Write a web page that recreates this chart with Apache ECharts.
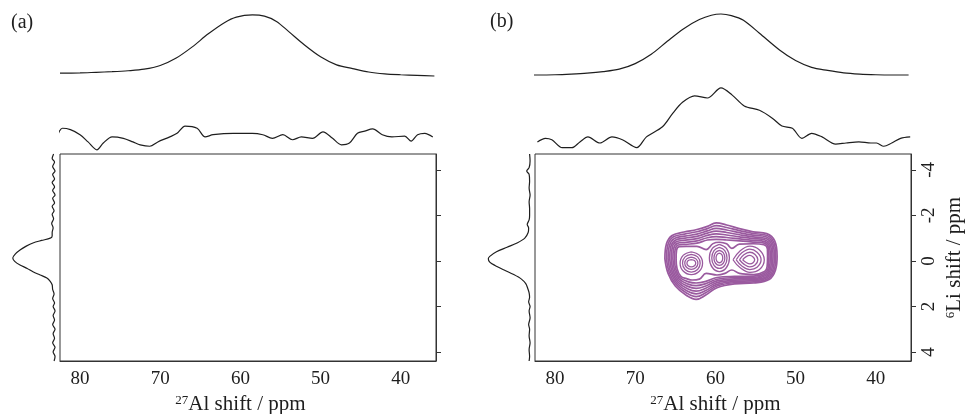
<!DOCTYPE html>
<html>
<head>
<meta charset="utf-8">
<title>27Al-6Li HETCOR</title>
<script src="https://cdn.jsdelivr.net/npm/echarts@6/dist/echarts.min.js"></script>
<style>
html, body { margin: 0; padding: 0; background: #fff; }
#main { width: 965px; height: 414px; }
</style>
</head>
<body>
<div id="main"></div>
<script>
// ---- data ----
// 27Al 1D spectra (top traces): shift in ppm, normalised intensity
var alTopA = [82.5, 80, 78, 76, 74, 72, 70, 68, 66, 64, 62, 60.5, 58.5, 57, 55.5, 54, 52, 50, 48, 46, 44, 42, 40, 38, 35.8];
var topA   = [0.045, 0.05, 0.06, 0.07, 0.085, 0.11, 0.17, 0.29, 0.47, 0.68, 0.86, 0.95, 0.985, 0.965, 0.88, 0.72, 0.5, 0.31, 0.18, 0.12, 0.065, 0.035, 0.02, 0.01, 0.0];
var alTopB = [82.7, 80, 78, 76, 74, 72, 70, 68, 66, 64, 62, 60.5, 59.3, 58, 56.5, 54.5, 52, 50, 48, 46, 44, 42, 40, 38, 35.9];
var topB   = [0.016, 0.02, 0.03, 0.045, 0.07, 0.11, 0.2, 0.35, 0.56, 0.76, 0.91, 0.98, 1.0, 0.975, 0.9, 0.69, 0.42, 0.25, 0.14, 0.09, 0.05, 0.03, 0.02, 0.016, 0.016];

// projections of the 2D maps onto the 27Al axis
var alProjA = [82.7, 82.2, 81.2, 80.0, 79.0, 77.9, 77.1, 76.0, 74.6, 73.4, 72.5, 71.3, 70.3, 68.8, 67.9, 66.9, 65.4, 64.4, 63.4, 60.9, 58.5, 57.2, 56.0, 54.7, 53.5, 52.4, 51.0, 49.7, 48.5, 47.4, 46.4, 45.4, 44.5, 43.5, 42.3, 41.1, 39.5, 38.7, 37.9, 37.0, 36.0];
var projA   = [0.26, 0.33, 0.31, 0.24, 0.14, 0.03, 0.125, 0.21, 0.19, 0.14, 0.10, 0.08, 0.14, 0.21, 0.26, 0.36, 0.33, 0.21, 0.24, 0.26, 0.26, 0.24, 0.19, 0.24, 0.17, 0.21, 0.19, 0.28, 0.19, 0.10, 0.125, 0.26, 0.29, 0.32, 0.24, 0.21, 0.22, 0.15, 0.24, 0.26, 0.21];
var alProjB = [82.2, 81.2, 80.4, 79.1, 77.9, 76.9, 75.9, 74.4, 72.9, 71.6, 69.8, 68.6, 66.6, 65.3, 64.1, 62.6, 61.0, 59.3, 57.9, 56.4, 54.5, 52.9, 51.7, 50.4, 49.2, 48.0, 46.7, 45.0, 43.7, 42.1, 40.6, 39.9, 39.0, 38.0, 36.9, 35.7];
var projB   = [0.14, 0.19, 0.17, 0.06, 0.06, 0.14, 0.21, 0.125, 0.21, 0.17, 0.06, 0.21, 0.35, 0.54, 0.69, 0.78, 0.75, 0.89, 0.79, 0.64, 0.58, 0.47, 0.36, 0.33, 0.19, 0.26, 0.21, 0.11, 0.125, 0.14, 0.125, 0.125, 0.08, 0.125, 0.19, 0.21];

// 6Li 1D spectra (left traces): shift in ppm, normalised intensity
var liSideA  = [-4.7, -4.5, -4.35, -4.15, -3.95, -3.8, -3.6, -3.45, -3.25, -3.1, -2.9, -2.75, -2.55, -2.4, -2.2, -2.05, -1.85, -1.65, -1.45, -1.25, -1.1, -1.0, -0.9, -0.79, -0.65, -0.48, -0.3, -0.13, 0.02, 0.18, 0.33, 0.48, 0.62, 0.75, 0.9, 1.05, 1.25, 1.45, 1.65, 1.85, 2.0, 2.2, 2.4, 2.6, 2.8, 3.0, 3.2, 3.4, 3.6, 3.8, 4.0, 4.2, 4.4];
var sideA    = [0.05, 0.08, 0.03, 0.07, 0.02, 0.07, 0.03, 0.08, 0.03, 0.07, 0.02, 0.07, 0.03, 0.08, 0.04, 0.08, 0.05, 0.09, 0.06, 0.08, 0.08, 0.12, 0.3, 0.48, 0.62, 0.75, 0.85, 0.9, 0.86, 0.75, 0.6, 0.48, 0.33, 0.19, 0.12, 0.08, 0.07, 0.04, 0.07, 0.03, 0.06, 0.02, 0.06, 0.03, 0.07, 0.02, 0.06, 0.03, 0.07, 0.02, 0.06, 0.02, 0.04];
var liSideB  = [-4.7, -4.4, -4.1, -3.95, -3.8, -3.5, -3.2, -2.9, -2.6, -2.3, -2.0, -1.8, -1.6, -1.45, -1.25, -1.0, -0.8, -0.6, -0.4, -0.2, -0.1, 0.05, 0.2, 0.4, 0.6, 0.8, 1.0, 1.2, 1.4, 1.6, 1.8, 2.0, 2.2, 2.5, 2.8, 3.0, 3.3, 3.6, 3.9, 4.2, 4.4];
var sideB    = [0.05, 0.04, 0.06, 0.11, 0.06, 0.05, 0.06, 0.04, 0.06, 0.05, 0.05, 0.06, 0.1, 0.07, 0.08, 0.15, 0.3, 0.52, 0.74, 0.88, 0.91, 0.88, 0.77, 0.58, 0.38, 0.22, 0.13, 0.09, 0.06, 0.05, 0.07, 0.04, 0.06, 0.04, 0.07, 0.05, 0.06, 0.04, 0.06, 0.05, 0.06];

// contour lines of panel (b), [27Al ppm, 6Li ppm]
var bandRings = [
  [[66.3,-0.1],[66.1,-0.75],[65.4,-1.12],[63.9,-1.27],[62.3,-1.38],[61.0,-1.52],[59.9,-1.67],[58.6,-1.58],[57.0,-1.42],[55.3,-1.28],[53.6,-1.2],[52.6,-0.88],[52.3,-0.2],[52.5,0.4],[53.3,0.82],[55.2,0.97],[57.6,1.01],[59.8,1.18],[61.2,1.5],[62.4,1.69],[63.6,1.52],[65.0,1.1],[65.9,0.55]],
  [[66.1,-0.1],[65.92,-0.71],[65.27,-1.05],[63.86,-1.18],[62.3,-1.28],[61.0,-1.42],[59.9,-1.55],[58.6,-1.47],[57.0,-1.33],[55.3,-1.205],[53.65,-1.13],[52.73,-0.83],[52.47,-0.2],[52.65,0.38],[53.38,0.77],[55.2,0.92],[57.6,0.955],[59.8,1.105],[61.2,1.4],[62.4,1.57],[63.56,1.42],[64.9,1.04],[65.74,0.52]],
  [[65.9,-0.1],[65.74,-0.67],[65.14,-0.98],[63.82,-1.09],[62.3,-1.18],[61.0,-1.32],[59.9,-1.43],[58.6,-1.36],[57.0,-1.24],[55.3,-1.13],[53.7,-1.06],[52.86,-0.78],[52.64,-0.2],[52.8,0.36],[53.46,0.72],[55.2,0.87],[57.6,0.9],[59.8,1.03],[61.2,1.3],[62.4,1.45],[63.52,1.32],[64.8,0.98],[65.58,0.49]],
  [[65.7,-0.1],[65.56,-0.63],[65.01,-0.91],[63.78,-1.0],[62.3,-1.08],[61.0,-1.22],[59.9,-1.31],[58.6,-1.25],[57.0,-1.15],[55.3,-1.055],[53.75,-0.99],[52.99,-0.73],[52.81,-0.2],[52.95,0.34],[53.54,0.67],[55.2,0.82],[57.6,0.845],[59.8,0.955],[61.2,1.2],[62.4,1.33],[63.48,1.22],[64.7,0.92],[65.42,0.46]],
  [[65.5,-0.1],[65.38,-0.59],[64.88,-0.84],[63.74,-0.91],[62.3,-0.98],[61.0,-1.12],[59.9,-1.19],[58.6,-1.14],[57.0,-1.06],[55.3,-0.98],[53.8,-0.92],[53.12,-0.68],[52.98,-0.2],[53.1,0.32],[53.62,0.62],[55.2,0.77],[57.6,0.79],[59.8,0.88],[61.2,1.1],[62.4,1.21],[63.44,1.12],[64.6,0.86],[65.26,0.43]],
  [[65.3,-0.1],[65.2,-0.55],[64.75,-0.77],[63.7,-0.82],[62.3,-0.88],[61.0,-1.02],[59.9,-1.07],[58.6,-1.03],[57.0,-0.97],[55.3,-0.905],[53.85,-0.85],[53.25,-0.63],[53.15,-0.2],[53.25,0.3],[53.7,0.57],[55.2,0.72],[57.6,0.735],[59.8,0.805],[61.2,1.0],[62.4,1.09],[63.4,1.02],[64.5,0.8],[65.1,0.4]],
  [[65.1,-0.1],[65.02,-0.51],[64.62,-0.7],[63.66,-0.73],[62.3,-0.78],[61.0,-0.92],[59.9,-0.95],[58.6,-0.92],[57.0,-0.88],[55.3,-0.83],[53.9,-0.78],[53.38,-0.58],[53.32,-0.2],[53.4,0.28],[53.78,0.52],[55.2,0.67],[57.6,0.68],[59.8,0.73],[61.2,0.9],[62.4,0.97],[63.36,0.92],[64.4,0.74],[64.94,0.37]],
  [[64.9,-0.1],[64.84,-0.47],[64.49,-0.63],[63.62,-0.64],[62.3,-0.64],[61.15,-0.5],[60.3,-0.76],[59.5,-0.82],[58.6,-0.75],[57.95,-0.55],[57.0,-0.74],[55.3,-0.755],[53.95,-0.71],[53.51,-0.53],[53.49,-0.2],[53.55,0.26],[53.86,0.47],[55.2,0.6],[57.0,0.55],[57.95,0.4],[58.8,0.55],[59.8,0.62],[61.15,0.55],[62.0,0.8],[62.9,0.84],[63.6,0.78],[64.3,0.68],[64.78,0.34]]
];
var leftRings = [
  [[63.0,-0.4],[62.01,-0.254],[61.6,0.1],[62.01,0.454],[63.0,0.6],[63.99,0.454],[64.4,0.1],[63.99,-0.254]],
  [[63.0,-0.29],[62.22,-0.176],[61.9,0.1],[62.22,0.376],[63.0,0.49],[63.78,0.376],[64.1,0.1],[63.78,-0.176]],
  [[63.0,-0.17],[62.42,-0.09],[62.18,0.1],[62.42,0.29],[63.0,0.37],[63.58,0.29],[63.82,0.1],[63.58,-0.09]],
  [[63.0,-0.06],[62.61,-0.013],[62.45,0.1],[62.61,0.213],[63.0,0.26],[63.39,0.213],[63.55,0.1],[63.39,-0.013]]
];
var midRings = [
  [[59.5,-0.73],[58.62,-0.55],[58.25,-0.13],[58.62,0.29],[59.5,0.47],[60.38,0.29],[60.75,-0.13],[60.38,-0.55]],
  [[59.5,-0.59],[58.83,-0.455],[58.55,-0.13],[58.83,0.195],[59.5,0.33],[60.17,0.195],[60.45,-0.13],[60.17,-0.455]],
  [[59.5,-0.46],[59.02,-0.363],[58.82,-0.13],[59.02,0.103],[59.5,0.2],[59.98,0.103],[60.18,-0.13],[59.98,-0.363]],
  [[59.5,-0.34],[59.2,-0.28],[59.08,-0.13],[59.2,0.02],[59.5,0.08],[59.8,0.02],[59.92,-0.13],[59.8,-0.28]]
];
var rightRings = [
  [[57.8,-0.05],[56.9,-0.45],[55.7,-0.65],[54.5,-0.48],[53.9,-0.05],[54.5,0.38],[55.7,0.5],[56.9,0.3]],
  [[57.4,-0.05],[56.7,-0.36],[55.7,-0.52],[54.8,-0.38],[54.3,-0.05],[54.8,0.28],[55.7,0.38],[56.7,0.22]],
  [[57.0,-0.05],[56.45,-0.27],[55.7,-0.38],[55.05,-0.28],[54.7,-0.05],[55.05,0.18],[55.7,0.26],[56.45,0.14]],
  [[56.6,-0.05],[56.2,-0.18],[55.7,-0.24],[55.3,-0.17],[55.1,-0.05],[55.3,0.08],[55.7,0.13],[56.2,0.06]]
];

var alTicks = [80, 70, 60, 50, 40];
var liTicks = [-4, -2, 0, 2, 4];

// ---- chart ----
var SERIF = '"Liberation Serif", "DejaVu Serif", serif';
var INK = '#1e1e1e';
var PURPLE = '#9a5a9f';
var AL_MIN = 35.6, AL_MAX = 82.5, LI_MIN = -4.7, LI_MAX = 4.4;

function pairs(xs, ys) {
  return xs.map(function (x, i) { return [x, ys[i]]; });
}

function hiddenAxis(grid, min, max, inverse) {
  return { type: 'value', gridIndex: grid, min: min, max: max, inverse: inverse, show: false };
}

function nameStyle(pad) {
  return {
    color: INK, fontFamily: SERIF, fontSize: 21, padding: pad,
    rich: { sup: { fontSize: 13, fontFamily: SERIF, color: INK, verticalAlign: 'top' } }
  };
}

function mainX(grid) {
  return {
    type: 'value', gridIndex: grid, min: AL_MIN, max: AL_MAX, inverse: true,
    axisLine: { show: true, onZero: false, lineStyle: { color: '#333' } },
    axisTick: { show: false },
    splitLine: { show: false },
    axisLabel: { customValues: alTicks, color: INK, fontFamily: SERIF, fontSize: 19, margin: 9 },
    name: '{sup|27}Al shift / ppm', nameLocation: 'middle', nameGap: 33,
    nameTextStyle: nameStyle([0, 15, 0, 0])
  };
}

function mainY(grid, labelled) {
  var ax = {
    type: 'value', gridIndex: grid, position: 'right', min: LI_MIN, max: LI_MAX, inverse: true,
    axisLine: { show: true, onZero: false, lineStyle: { color: '#333' } },
    axisTick: { show: true, customValues: liTicks, length: 5, lineStyle: { color: '#333' } },
    splitLine: { show: false },
    axisLabel: { show: labelled, customValues: liTicks, rotate: 90, color: INK, fontFamily: SERIF, fontSize: 19, margin: 9 }
  };
  if (labelled) {
    ax.name = '{sup|6}Li shift / ppm';
    ax.nameLocation = 'middle';
    ax.nameRotate = 90;
    ax.nameGap = 33;
    ax.nameTextStyle = nameStyle(0);
  }
  return ax;
}

function trace(xi, data) {
  return {
    type: 'line', xAxisIndex: xi, yAxisIndex: xi, data: data,
    smooth: 0.3, symbol: 'none', clip: false, silent: true,
    lineStyle: { color: INK, width: 1.2 }
  };
}

function contour(ring, width) {
  return {
    type: 'line', xAxisIndex: 4, yAxisIndex: 4,
    data: ring.concat([ring[0]]),
    smooth: 0.4, symbol: 'none', silent: true,
    lineStyle: { color: PURPLE, width: width }
  };
}

var series = [
  trace(1, pairs(alTopA, topA)),
  trace(2, pairs(alProjA, projA)),
  trace(3, pairs(sideA, liSideA)),
  trace(5, pairs(alTopB, topB)),
  trace(6, pairs(alProjB, projB)),
  trace(7, pairs(sideB, liSideB))
];

bandRings.forEach(function (ring) { series.push(contour(ring, 1.7)); });
leftRings.concat(midRings, rightRings).forEach(function (ring) { series.push(contour(ring, 1.3)); });

function box(left, top, width, height, framed) {
  return {
    left: left, top: top, width: width, height: height,
    outerBoundsMode: 'none', containLabel: false,
    show: framed, borderColor: '#333', borderWidth: 1
  };
}

var option = {
  animation: false,
  backgroundColor: '#fff',
  title: [
    { text: '(a)', left: 6, top: 8, textStyle: { fontFamily: SERIF, fontWeight: 'normal', fontSize: 20, color: INK } },
    { text: '(b)', left: 485, top: 7, textStyle: { fontFamily: SERIF, fontWeight: 'normal', fontSize: 20, color: INK } }
  ],
  grid: [
    box(60, 154, 376, 207, true),
    box(60, 14, 376, 62, false),
    box(60, 80, 376, 72, false),
    box(8, 154, 48, 207, false),
    box(535, 154, 376, 207, true),
    box(535, 14, 376, 62, false),
    box(535, 80, 376, 72, false),
    box(484, 154, 48, 207, false)
  ],
  xAxis: [
    mainX(0),
    hiddenAxis(1, AL_MIN, AL_MAX, true),
    hiddenAxis(2, AL_MIN, AL_MAX, true),
    hiddenAxis(3, 0, 1, true),
    mainX(4),
    hiddenAxis(5, AL_MIN, AL_MAX, true),
    hiddenAxis(6, AL_MIN, AL_MAX, true),
    hiddenAxis(7, 0, 1, true)
  ],
  yAxis: [
    mainY(0, false),
    hiddenAxis(1, 0, 1, false),
    hiddenAxis(2, 0, 1, false),
    hiddenAxis(3, LI_MIN, LI_MAX, true),
    mainY(4, true),
    hiddenAxis(5, 0, 1, false),
    hiddenAxis(6, 0, 1, false),
    hiddenAxis(7, LI_MIN, LI_MAX, true)
  ],
  series: series
};

var chart = echarts.init(document.getElementById('main'));
chart.setOption(option);
</script>
</body>
</html>
